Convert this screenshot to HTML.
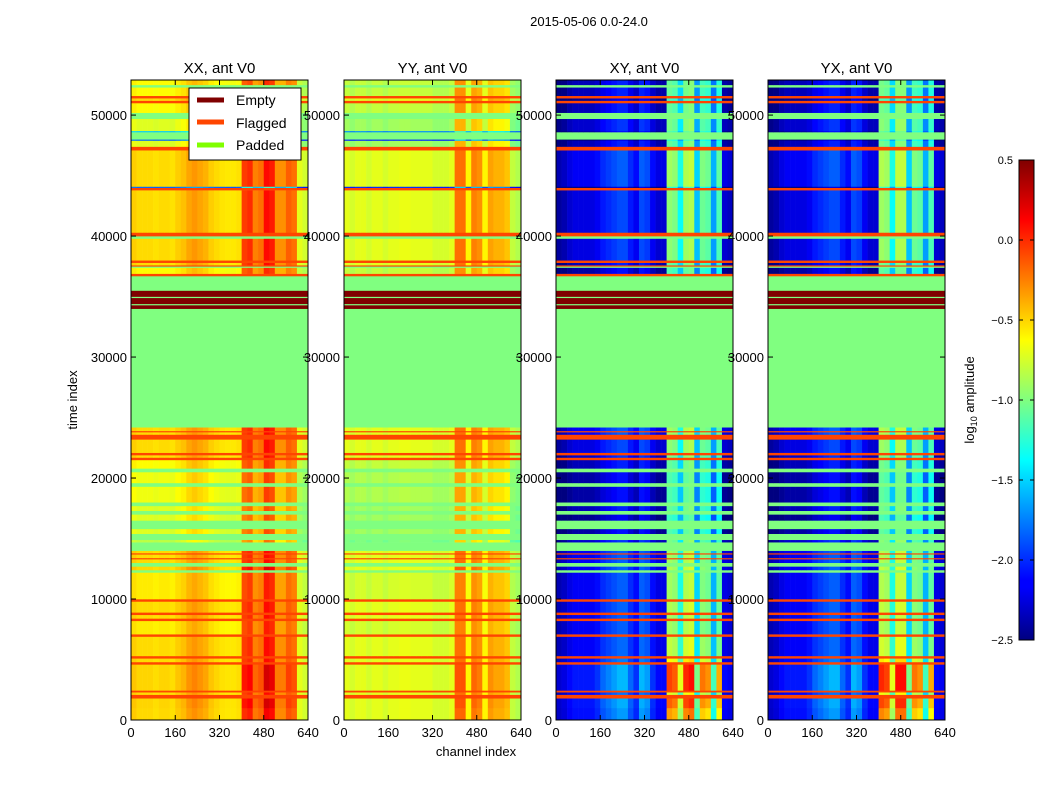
<!DOCTYPE html>
<html><head><meta charset="utf-8"><style>
body{margin:0;background:#fff;}
svg{display:block;font-family:"Liberation Sans",sans-serif;}
</style></head><body>
<svg id="chart" width="1050" height="800" viewBox="0 0 1050 800">
<defs><linearGradient id="jet" x1="0" y1="1" x2="0" y2="0">
<stop offset="0" stop-color="#000080"/><stop offset="0.11" stop-color="#0000ff"/><stop offset="0.125" stop-color="#0000ff"/>
<stop offset="0.375" stop-color="#00ffff"/><stop offset="0.5" stop-color="#80ff80"/><stop offset="0.625" stop-color="#ffff00"/>
<stop offset="0.875" stop-color="#ff0000"/><stop offset="1" stop-color="#800000"/></linearGradient></defs>
<text x="589" y="26" font-size="13" text-anchor="middle">2015-05-06 0.0-24.0</text>
<g id="panels"></g>
<text transform="translate(77,400) rotate(-90)" font-size="13" text-anchor="middle">time index</text>
<text x="476" y="756" font-size="13" text-anchor="middle">channel index</text>
<g>
<rect x="189" y="88" width="112" height="72" fill="#fff" stroke="#000" stroke-width="1"/>
<line x1="197" y1="100" x2="224" y2="100" stroke="#800000" stroke-width="5"/>
<text x="236" y="105" font-size="14">Empty</text>
<line x1="197" y1="122" x2="224" y2="122" stroke="#ff4500" stroke-width="5"/>
<text x="236" y="128" font-size="14">Flagged</text>
<line x1="197" y1="145" x2="224" y2="145" stroke="#80ff00" stroke-width="5"/>
<text x="236" y="150" font-size="14">Padded</text>
</g>
<g>
<rect x="1019" y="160" width="15" height="480" fill="url(#jet)" stroke="#000" stroke-width="1"/>
<g id="cbticks"></g>
<text transform="translate(974,400) rotate(-90)" font-size="13" text-anchor="middle">log<tspan font-size="9" dy="3">10</tspan><tspan dy="-3"> amplitude</tspan></text>
</g>
</svg>
<script>
const panelTitles=["XX, ant V0","YY, ant V0","XY, ant V0","YX, ant V0"];
const xTicks=[0,160,320,480,640];
const yTicks=[0,10000,20000,30000,40000,50000];
const cbTicks=[0.5,0.0,-0.5,-1.0,-1.5,-2.0,-2.5];
// column profiles, 32 bins of 20 channels (log10 amplitude)
const profXX=[-0.48,-0.52,-0.52,-0.52,-0.54,-0.52,-0.52,-0.54,-0.48,-0.44,-0.36,-0.32,-0.36,-0.4,-0.48,-0.52,-0.55,-0.56,-0.56,-0.54,-0.05,0.0,-0.25,-0.2,0.1,0.05,-0.3,-0.3,-0.15,-0.2,-0.7,-0.76];
const profYY=[-0.7,-0.75,-0.7,-0.7,-0.75,-0.7,-0.7,-0.75,-0.7,-0.7,-0.68,-0.68,-0.7,-0.7,-0.7,-0.7,-0.75,-0.75,-0.75,-0.7,-0.2,-0.2,-0.6,-0.25,-0.3,-0.6,-0.35,-0.4,-0.4,-0.45,-0.8,-0.85];
const profXY=[-2.35,-2.3,-2.2,-2.15,-2.15,-2.15,-2.15,-2.1,-2.0,-1.95,-1.9,-1.85,-1.85,-2.0,-2.1,-1.85,-1.9,-2.1,-2.2,-2.2,-0.9,-0.95,-1.3,-0.85,-0.8,-1.5,-1.0,-1.05,-1.6,-1.1,-2.2,-2.25];
const profYX=[-2.35,-2.3,-2.2,-2.15,-2.15,-2.15,-2.15,-2.1,-2.0,-1.95,-1.9,-1.85,-1.85,-2.0,-2.1,-1.85,-1.9,-2.1,-2.2,-2.2,-0.85,-0.9,-1.3,-0.8,-0.8,-1.5,-1.0,-1.05,-1.6,-1.1,-2.2,-2.25];
// time segments: start, end, kind (d=data,f=flagged,p=padded,e=empty)
const segStart=[0,1000,1800,2100,2300,2450,4600,4800,5100,5300,6900,7100,8200,8400,8700,8900,9800,10000,12200,12400,12700,13000,13300,13400,13700,13800,14000,14700,14900,15400,15800,16500,17000,17300,17700,18000,19300,19600,20500,20800,21500,21700,21900,22100,23200,23600,23800,23900,24200,34000,34300,34400,34900,35000,35500,36700,36900,37400,37500,37600,37800,38000,39800,40000,40300,43800,44000,44100,47100,47400,47900,48000,48600,48700,49700,50200,51000,51200,51400,51600,52300,52500];
const segEnd=[1000,1800,2100,2300,2450,4600,4800,5100,5300,6900,7100,8200,8400,8700,8900,9800,10000,12200,12400,12700,13000,13300,13400,13700,13800,14000,14700,14900,15400,15800,16500,17000,17300,17700,18000,19300,19600,20500,20800,21500,21700,21900,22100,23200,23600,23800,23900,24200,34000,34300,34400,34900,35000,35500,36700,36900,37400,37500,37600,37800,38000,39800,40000,40300,43800,44000,44100,47100,47400,47900,48000,48600,48700,49700,50200,51000,51200,51400,51600,52300,52500,52900];
const segKind=["d","d","f","d","f","d","f","d","f","d","f","d","f","d","f","d","f","d","p","d","p","d","f","d","f","d","p","d","p","d","p","d","p","d","p","d","p","d","p","d","f","d","f","d","f","d","f","d","p","e","p","e","p","e","p","f","d","p","f","d","f","d","p","f","d","f","d","d","f","d","d","p","d","d","p","d","f","d","f","d","p","d"];
// level offsets for parallel-hand (XX,YY) and cross-hand (XY,YX) data rows
const segLevelPar=[0.05,0.15,0,0,0,0.15,0,0,0,0,0,-0.05,0,0,0,0,0,-0.05,0,0.1,0,0,0,0,0,0,0,-0.3,0,-0.2,0,-0.2,0,-0.2,0,-0.15,0,-0.15,0,-0.1,0,0,0,0,0,0,0,0,0,0,0,0,0,0,0,0,-0.1,0,0,0,0,0,0,0,0,0,-1.3,0,0,-0.2,-1.3,0,-1.0,-0.2,0,-0.1,0,0,0,-0.1,0,-0.1];
const segLevelX=[0.6,0.8,0,0.2,0,0.9,0,0.3,0,0.1,0,0,0,0,0,0.05,0,0,0,0.05,0,0,0,0,0,0,0,-0.2,0,-0.4,0,-0.5,0,-0.3,0,-0.4,0,-0.4,0,-0.3,0,-0.2,0,-0.1,0,0,0,0,0,0,0,0,0,0,0,0,-0.4,0,0,-0.3,0,-0.1,0,0,-0.1,0,-0.6,0,0,-0.3,-0.6,0,-0.4,-0.2,0,-0.3,0,-0.5,0,-0.3,0,-0.3];

const svg=document.getElementById('panels');
const NS="http://www.w3.org/2000/svg";
const panelX=[131,344,556,768], PW=177, PT=80, PB=720, TMAX=52900, CMAX=640;
function jet(v){let t=(v+2.5)/3;t=Math.max(0,Math.min(1,t));
 const c=x=>Math.round(255*Math.max(0,Math.min(1,1.5-Math.abs(4*t-x))));
 return `rgb(${c(3)},${c(2)},${c(1)})`;}
function mk(tag,attrs,parent){const e=document.createElementNS(NS,tag);for(const k in attrs)e.setAttribute(k,attrs[k]);parent.appendChild(e);return e;}
const profs=[profXX,profYY,profXY,profYX];
for(let p=0;p<4;p++){
 const x0=panelX[p];
 const xs=c=>x0+c*PW/CMAX, ys=t=>PB-t*(PB-PT)/TMAX;
 const g=document.createElementNS(NS,'g');
 
 
 svg.appendChild(g);
 const prof=profs[p], cross=p>=2, nb=prof.length, bw=CMAX/nb;
 for(let s=0;s<segStart.length;s++){
  const y1=ys(segEnd[s]), y2=ys(segStart[s]), h=y2-y1+0.3, k=segKind[s];
  if(k!=='d'){
   const r=mk('rect',{x:xs(0),y:y1,width:PW,height:h,fill:k==='f'?'#ff4500':k==='p'?'#80ff80':'#800000'},g);
   
   
   continue;}
  for(let b=0;b<nb;b++){
   let v;
   if(cross){const L=segLevelX[s];
     if(L>0){const w=Math.max(0.1,(prof[b]+2.3)/1.5); v=prof[b]+L*w;} else v=prof[b]+L*0.6;}
   else {const L=segLevelPar[s];
     if(L>0){const w=Math.max(0,(prof[b]+0.6)/0.7); v=prof[b]+L*w;} else v=prof[b]+L;}
   const r=mk('rect',{x:xs(b*bw),y:y1,width:PW/nb+0.3,height:h,fill:jet(v)},g);
   
   
  }
 }
 mk('rect',{x:x0,y:PT,width:PW,height:PB-PT,fill:'none',stroke:'#000','stroke-width':1},g);
 const tt=mk('text',{x:x0+PW/2,y:73,'font-size':15,'text-anchor':'middle'},g);
 tt.textContent=panelTitles[p];
 
 
 xTicks.forEach(v=>{const x=xs(v);
  mk('line',{x1:x,y1:PB,x2:x,y2:PB-5,stroke:'#000'},g);
  mk('line',{x1:x,y1:PT,x2:x,y2:PT+5,stroke:'#000'},g);
  const t=mk('text',{x:x,y:PB+17,'font-size':13,'text-anchor':'middle'},g);t.textContent=v;
  
  });
 yTicks.forEach(v=>{const y=ys(v);
  mk('line',{x1:x0,y1:y,x2:x0+5,y2:y,stroke:'#000'},g);
  mk('line',{x1:x0+PW,y1:y,x2:x0+PW-5,y2:y,stroke:'#000'},g);
  const t=mk('text',{x:x0-4,y:y+5,'font-size':13,'text-anchor':'end'},g);t.textContent=v;
  
  });
}
const cb=document.getElementById('cbticks');
cbTicks.forEach(v=>{const y=640-(v+2.5)/3*480;
 mk('line',{x1:1019,y1:y,x2:1023,y2:y,stroke:'#000'},cb);
 mk('line',{x1:1034,y1:y,x2:1030,y2:y,stroke:'#000'},cb);
 const t=mk('text',{x:1013,y:y+4,'font-size':11,'text-anchor':'end'},cb);
 t.textContent=v.toFixed(1).replace('-','\u2212');
 
 });
</script>
</body></html>
